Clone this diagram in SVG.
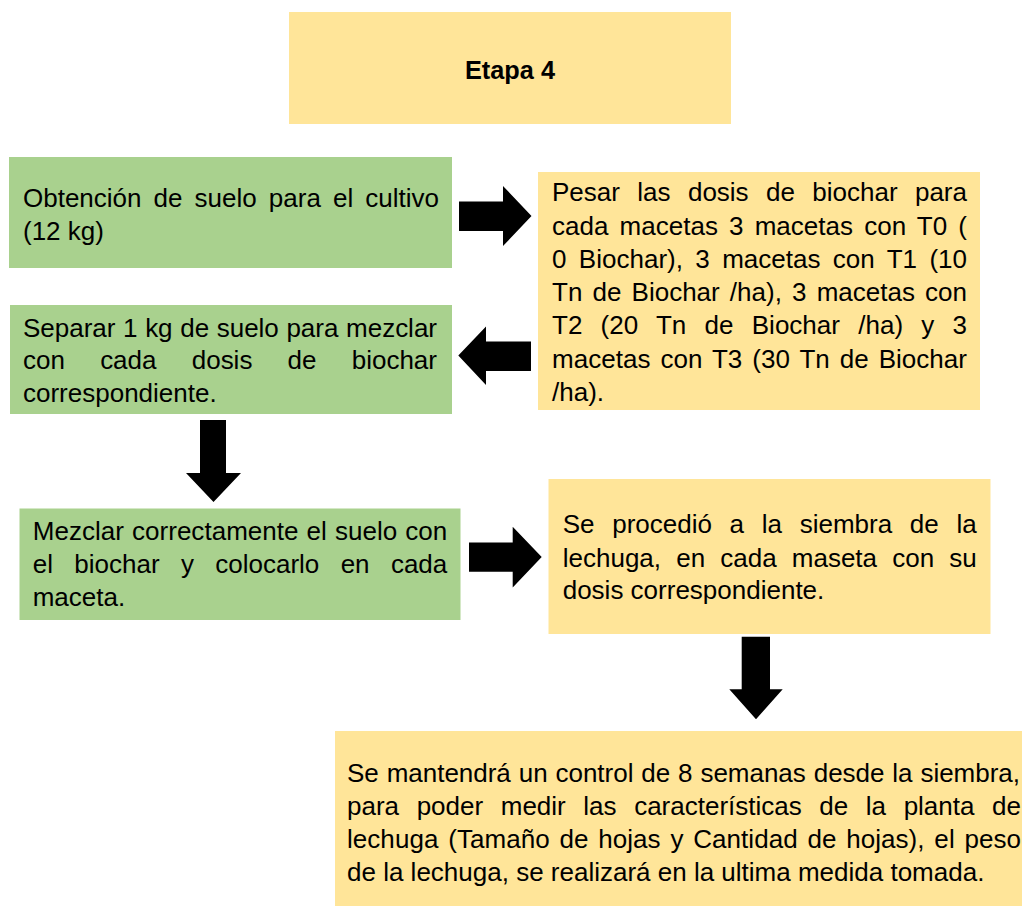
<svg xmlns="http://www.w3.org/2000/svg" width="1022" height="906" viewBox="0 0 1022 906">
<style>
.y{fill:#FFE599}
.g{fill:#A9D18E}
.t{font-family:"Liberation Sans",Arial,sans-serif;font-size:26px;fill:#000}
.h{font-family:"Liberation Sans",Arial,sans-serif;font-size:26px;font-weight:bold;fill:#000}
.a{fill:#000}
</style>
<rect width="1022" height="906" fill="#fff"/>
<g id="n0">
<rect class="y" x="289" y="12" width="442" height="112"/>
<text class="h" x="510" y="79" text-anchor="middle" textLength="90" lengthAdjust="spacingAndGlyphs">Etapa 4</text>
</g>
<g id="n1">
<rect class="g" x="9" y="157" width="443" height="111"/>
<text class="t" x="23" y="207" word-spacing="4.9" textLength="416" lengthAdjust="spacing">Obtención de suelo para el cultivo</text>
<text class="t" x="23" y="240">(12 kg)</text>
</g>
<g id="n2">
<rect class="y" x="538" y="172" width="442" height="238"/>
<text class="t" x="552" y="201" word-spacing="10.2" textLength="415" lengthAdjust="spacing">Pesar las dosis de biochar para</text>
<text class="t" x="552" y="234.5" word-spacing="3.9" textLength="415" lengthAdjust="spacing">cada macetas 3 macetas con T0 (</text>
<text class="t" x="552" y="267.7" word-spacing="5.1" textLength="415" lengthAdjust="spacing">0 Biochar), 3 macetas con T1 (10</text>
<text class="t" x="552" y="301" word-spacing="2.9" textLength="415" lengthAdjust="spacing">Tn de Biochar /ha), 3 macetas con</text>
<text class="t" x="552" y="334.3" word-spacing="11" textLength="415" lengthAdjust="spacing">T2 (20 Tn de Biochar /ha) y 3</text>
<text class="t" x="552" y="367.6" word-spacing="2.7" textLength="415" lengthAdjust="spacing">macetas con T3 (30 Tn de Biochar</text>
<text class="t" x="552" y="400.5">/ha).</text>
</g>
<g id="n3">
<rect class="g" x="10" y="305" width="442" height="109"/>
<text class="t" x="23" y="336.7" word-spacing="0.4" textLength="414" lengthAdjust="spacing">Separar 1 kg de suelo para mezclar</text>
<text class="t" x="23" y="369.3" word-spacing="28" textLength="414" lengthAdjust="spacing">con cada dosis de biochar</text>
<text class="t" x="23" y="401.7">correspondiente.</text>
</g>
<g id="n4">
<rect class="g" x="19.5" y="508.5" width="441" height="111.5"/>
<text class="t" x="32.7" y="540" word-spacing="0.8" textLength="414.6" lengthAdjust="spacing">Mezclar correctamente el suelo con</text>
<text class="t" x="32.7" y="572.7" word-spacing="14.1" textLength="414.6" lengthAdjust="spacing">el biochar y colocarlo en cada</text>
<text class="t" x="32.7" y="606">maceta.</text>
</g>
<g id="n5">
<rect class="y" x="548.5" y="479" width="442" height="155"/>
<text class="t" x="562.7" y="533.3" word-spacing="10.5" textLength="414" lengthAdjust="spacing">Se procedió a la siembra de la</text>
<text class="t" x="562.7" y="566.7" word-spacing="7.9" textLength="414" lengthAdjust="spacing">lechuga, en cada maseta con su</text>
<text class="t" x="562.7" y="599.3">dosis correspondiente.</text>
</g>
<g id="n6">
<rect class="y" x="335" y="731" width="687" height="175"/>
<text class="t" x="347" y="782" word-spacing="0.7" textLength="673" lengthAdjust="spacing">Se mantendrá un control de 8 semanas desde la siembra,</text>
<text class="t" x="347" y="815" word-spacing="10.4" textLength="674" lengthAdjust="spacing">para poder medir las características de la planta de</text>
<text class="t" x="347" y="848" word-spacing="2.5" textLength="674" lengthAdjust="spacing">lechuga (Tamaño de hojas y Cantidad de hojas), el peso</text>
<text class="t" x="347" y="881">de la lechuga, se realizará en la ultima medida tomada.</text>
</g>
<g id="connectors">
<polygon class="a" points="459,201.5 503,201.5 503,186 531.5,216 503,246 503,231 459,231"/>
<polygon class="a" points="531,341.5 486,341.5 486,326.5 458.3,355.5 486,385 486,371 531,371"/>
<polygon class="a" points="200,420 226,420 226,473 241,473 213.5,502 186,473 200,473"/>
<polygon class="a" points="469,542.5 512.7,542.5 512.7,526.7 541.7,557 512.7,587.5 512.7,571.7 469,571.7"/>
<polygon class="a" points="741.7,636.7 770,636.7 770,689.3 782.7,689.3 756,719.3 729.3,689.3 741.7,689.3"/>
</g>
</svg>
